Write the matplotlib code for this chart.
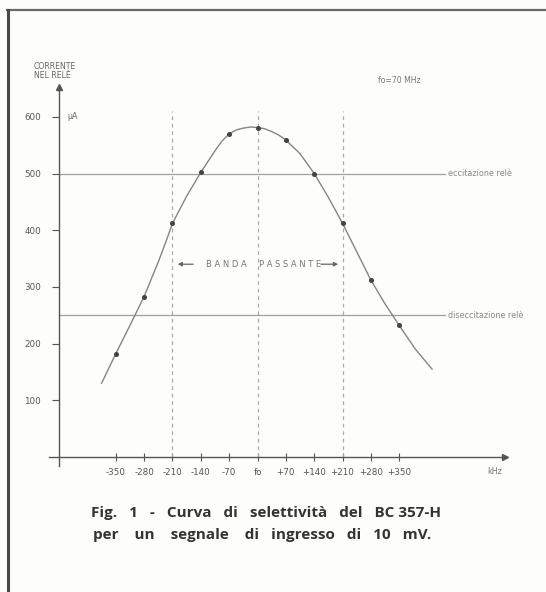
import matplotlib.pyplot as plt
from matplotlib.lines import Line2D

# points marked on the curve (kHz offset from fo, current in uA)
punti_f = [-350, -280, -210, -140, -70, 0, 70, 140, 210, 280, 350]
punti_i = [182, 283, 412, 502, 570, 581, 559, 500, 412, 312, 233]

# hand-drawn curve
curva_f = [-385, -350, -315, -280, -245, -226, -210, -175, -140, -105, -88, -70,
           -52, -35, -17, 0, 17, 35, 52, 70, 105, 140, 175, 210, 245, 280,
           315, 350, 390, 431]
curva_i = [130, 182, 232, 283, 344, 380, 412, 460, 502, 540, 557, 570,
           577, 580, 582, 581, 579, 574, 568, 559, 535, 500, 458, 412, 362, 312,
           270, 232, 190, 155]

x_ticks = [-350, -280, -210, -140, -70, 0, 70, 140, 210, 280, 350]
x_labels = ['-350', '-280', '-210', '-140', '-70', 'fo', '+70', '+140', '+210', '+280', '+350']
y_ticks = [100, 200, 300, 400, 500, 600]
banda = [-210, 0, 210]
soglie = [500, 250]
soglie_txt = ['eccitazione relè', 'diseccitazione relè']

bg = '#fdfdf9'
fig = plt.figure(figsize=(5.46, 5.92), dpi=100, facecolor=bg)
# axes placed so that fo -> x=257.5px, 0 uA -> y=457px
W, H = 546, 592
x0px, x1px, y0px, y1px = 40, 530, 60, 480
ax = fig.add_axes([x0px / W, 1 - y1px / H, (x1px - x0px) / W, (y1px - y0px) / H])
ax.set_facecolor(bg)
kx, ky = 0.405, 0.567
ax.set_xlim((x0px - 257.5) / kx, (x1px - 257.5) / kx)
ax.set_ylim((457 - y1px) / ky, (457 - y0px) / ky)

axc = '#555555'
for s in ['top', 'right']:
    ax.spines[s].set_visible(False)
ax.spines['left'].set_position(('data', -490))
ax.spines['left'].set_bounds(-15, 650)
ax.spines['bottom'].set_position(('data', 0))
ax.spines['bottom'].set_bounds(-515, 610)
for s in ['left', 'bottom']:
    ax.spines[s].set_color(axc)
    ax.spines[s].set_linewidth(1.0)
ax.plot([612], [0], marker='>', ms=5, color=axc, clip_on=False)
ax.plot([-490], [652], marker='^', ms=4, color=axc, clip_on=False)

ax.set_xticks(x_ticks)
ax.set_xticklabels(x_labels)
ax.set_yticks(y_ticks)
ax.tick_params(axis='x', direction='inout', length=6, width=0.8, color=axc,
               labelsize=6.3, labelcolor='#555555', pad=5)
ax.tick_params(axis='y', direction='out', length=5, width=0.8, color=axc,
               labelsize=6.3, labelcolor='#555555', pad=8)

for f in banda:
    ax.plot([f, f], [0, 610], color='#aaaaaa', lw=0.9, ls=(0, (3, 3)))
for v, t in zip(soglie, soglie_txt):
    ax.plot([-490, 463], [v, v], color='#a0a0a0', lw=0.9)
    ax.text(470, v, t, fontsize=5.8, color='#888888', va='center', ha='left')

ax.plot(curva_f, curva_i, color='#858585', lw=1.0)
ax.plot(punti_f, punti_i, 'o', ms=2.6, color='#444444')

ax.text(-470, 600, 'µA', fontsize=5.8, color='#666666', va='center')
ax.text(-553, 665, 'CORRENTE\nNEL RELÈ', fontsize=5.6, color='#666666',
        va='bottom', ha='left', linespacing=1.0)
ax.text(298, 664, 'fo=70 MHz', fontsize=5.6, color='#777777', va='center')
ax.text(586, -25, 'kHz', fontsize=5.8, color='#777777', va='center', ha='center')

ax.text(-76, 340, 'B A N D A', fontsize=6, color='#777777', va='center', ha='center')
ax.text(80, 340, 'P A S S A N T E', fontsize=6, color='#777777', va='center', ha='center')
ax.annotate('', xy=(-204, 340), xytext=(-152, 340),
            arrowprops=dict(arrowstyle='-|>', color='#666666', lw=0.9, mutation_scale=6))
ax.annotate('', xy=(206, 340), xytext=(150, 340),
            arrowprops=dict(arrowstyle='-|>', color='#666666', lw=0.9, mutation_scale=6))

fig.text(91 / W, 1 - 513 / H, 'Fig.   1   -   Curva   di   selettività   del   BC 357-H',
         fontsize=11, fontweight='bold', family='Open Sans', color='#333333', va='center')
fig.text(93 / W, 1 - 535 / H, 'per    un    segnale    di   ingresso   di   10   mV.',
         fontsize=11, fontweight='bold', family='Open Sans', color='#333333', va='center')

# frame of the printed figure
fig.add_artist(Line2D([7 / W, 1], [1 - 10 / H, 1 - 10 / H], color='#6b6b62', lw=1.6))
fig.add_artist(Line2D([8 / W, 8 / W], [0, 1 - 10 / H], color='#4a4a44', lw=2.2))

fig.savefig('out.png', dpi=100, facecolor=bg)
